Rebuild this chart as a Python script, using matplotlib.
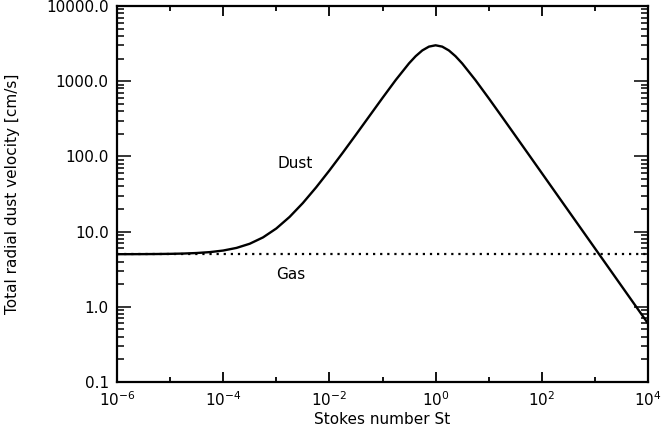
import matplotlib
matplotlib.use("Agg")
import matplotlib.pyplot as plt
import numpy as np
from matplotlib.ticker import FixedLocator, NullFormatter

# Data
log_st = [-6.0, -5.75, -5.5, -5.25, -5.0, -4.75, -4.5, -4.25, -4.0, -3.75,
          -3.5, -3.25, -3.0, -2.75, -2.5, -2.25, -2.0, -1.75, -1.5, -1.25,
          -1.0, -0.75, -0.5, -0.375, -0.25, -0.125, 0.0, 0.125, 0.25, 0.375,
          0.5, 0.75, 1.0, 1.25, 1.5, 1.75, 2.0, 2.25, 2.5, 2.75,
          3.0, 3.25, 3.5, 3.75, 4.0]
dust_v = [5.006, 5.011, 5.019, 5.034, 5.06, 5.107, 5.19, 5.337, 5.6, 6.067,
          6.897, 8.374, 11.0, 15.67, 23.97, 38.74, 64.99, 111.6, 194.5, 341.3,
          599.0, 1039.1, 1729.5, 2152.4, 2567.0, 2883.2, 3002.5, 2881.6, 2564.6, 2148.9,
          1725.4, 1034.4, 594.1, 336.3, 189.5, 106.7, 60.0, 33.73, 18.97, 10.67,
          6.0, 3.374, 1.897, 1.067, 0.600]
gas_st = [1e-6, 1e4]
gas_v = [5.0, 5.0]

x_major_ticks = [1e-6, 1e-4, 1e-2, 1e0, 1e2, 1e4]
x_tick_labels = [r"$10^{-6}$", r"$10^{-4}$", r"$10^{-2}$", r"$10^{0}$", r"$10^{2}$", r"$10^{4}$"]
x_minor_ticks = [1e-5, 1e-3, 1e-1, 1e1, 1e3]
y_major_ticks = [0.1, 1.0, 10.0, 100.0, 1000.0, 10000.0]
y_tick_labels = ["0.1", "1.0", "10.0", "100.0", "1000.0", "10000.0"]

plt.rcParams['font.family'] = ['DejaVu Sans']
plt.rcParams['mathtext.fontset'] = 'dejavusans'

fig = plt.figure(figsize=(6.64, 4.41), dpi=100)
ax = fig.add_axes([117/664, 59/441, 531/664, 376/441])

st = [10.0**e for e in log_st]
ax.plot(st, dust_v, color='black', lw=1.7, solid_joinstyle='round')
ax.plot(gas_st, gas_v, color='black', lw=1.6, linestyle=(0, (1, 2.2)))

ax.set_xscale('log')
ax.set_yscale('log')
ax.set_xlim(1e-6, 1e4)
ax.set_ylim(0.1, 1e4)

ax.xaxis.set_major_locator(FixedLocator(x_major_ticks))
ax.set_xticklabels(x_tick_labels)
ax.xaxis.set_minor_locator(FixedLocator(x_minor_ticks))
ax.xaxis.set_minor_formatter(NullFormatter())

ax.yaxis.set_major_locator(FixedLocator(y_major_ticks))
ax.set_yticklabels(y_tick_labels)
ymin = []
for d in [0.1, 1.0, 10.0, 100.0, 1000.0]:
    for m in range(2, 10):
        ymin.append(d * m)
ax.yaxis.set_minor_locator(FixedLocator(ymin))
ax.yaxis.set_minor_formatter(NullFormatter())

ax.tick_params(axis='x', which='major', direction='in', length=7, width=1.3,
               top=True, bottom=True, labelsize=11, pad=6)
ax.tick_params(axis='x', which='minor', direction='in', length=3.5, width=1.3,
               top=True, bottom=True)
ax.tick_params(axis='y', which='major', direction='in', length=10, width=1.1,
               left=True, right=True, labelsize=11, pad=6)
ax.tick_params(axis='y', which='minor', direction='in', length=5, width=1.1,
               left=True, right=True)

for s in ax.spines.values():
    s.set_linewidth(1.6)

ax.set_xlabel("Stokes number St", fontsize=11, labelpad=2)
ax.set_ylabel("Total radial dust velocity [cm/s]", fontsize=11)
ax.yaxis.set_label_coords(-0.183, 0.5)

ax.text(2.25e-3, 81.7, "Dust", fontsize=11, ha='center', va='center')
ax.text(1.89e-3, 2.65, "Gas", fontsize=11, ha='center', va='center')

fig.savefig("out.png", dpi=100)
